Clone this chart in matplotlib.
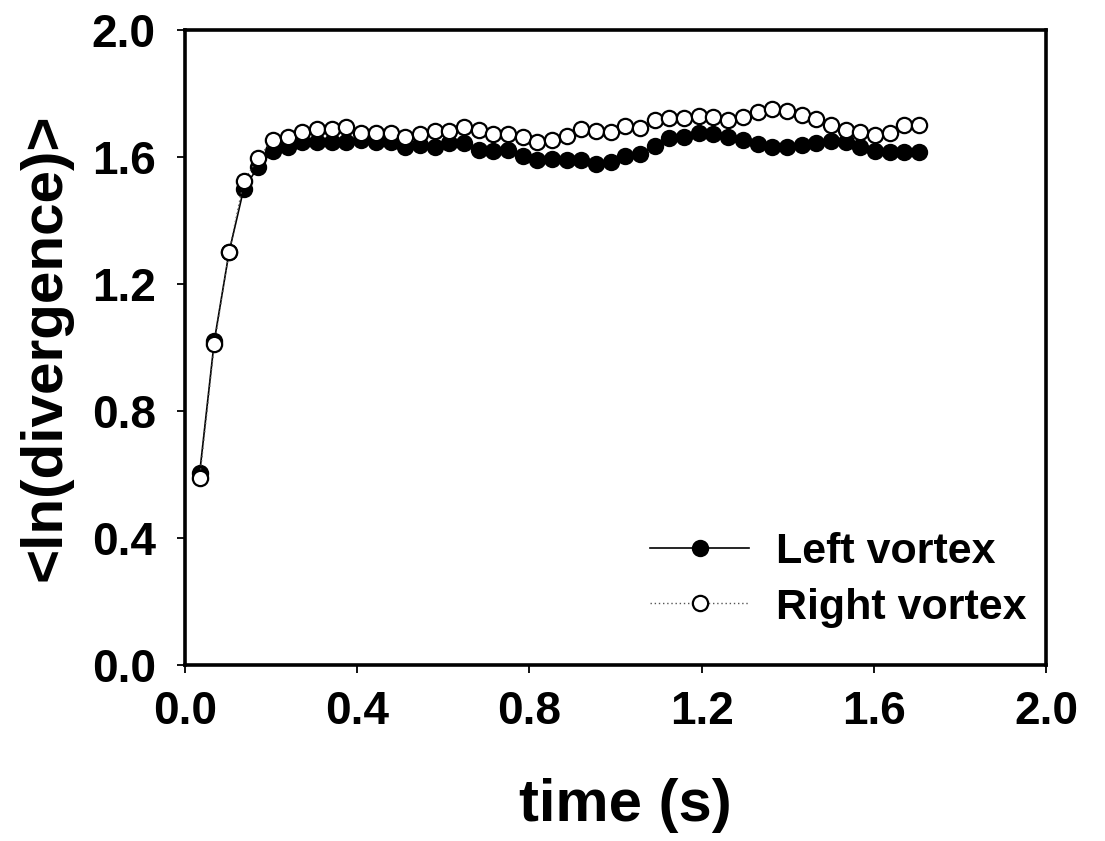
import numpy as np
import matplotlib
matplotlib.use("Agg")
import matplotlib.pyplot as plt

plt.rcParams["font.family"] = ["Liberation Sans", "DejaVu Sans"]
plt.rcParams["font.weight"] = "bold"

# Frame interval (s) and sample times
frame_dt = 0.0341
time_s = frame_dt * np.arange(1, 51)

left_vortex = [
    0.605, 1.022, 1.300, 1.500, 1.570, 1.619, 1.633, 1.648, 1.648, 1.648,
    1.648, 1.652, 1.648, 1.648, 1.633, 1.638, 1.633, 1.643, 1.645, 1.622,
    1.620, 1.622, 1.603, 1.590, 1.593, 1.590, 1.589, 1.578, 1.585, 1.603,
    1.611, 1.635, 1.659, 1.664, 1.675, 1.674, 1.664, 1.654, 1.641, 1.630,
    1.630, 1.638, 1.645, 1.651, 1.648, 1.630, 1.620, 1.617, 1.617, 1.617,
]

right_vortex = [
    0.589, 1.010, 1.300, 1.524, 1.598, 1.654, 1.664, 1.680, 1.688, 1.688,
    1.695, 1.677, 1.677, 1.677, 1.664, 1.672, 1.683, 1.683, 1.693, 1.685,
    1.672, 1.672, 1.664, 1.648, 1.654, 1.666, 1.687, 1.683, 1.680, 1.698,
    1.690, 1.717, 1.724, 1.724, 1.730, 1.727, 1.717, 1.727, 1.743, 1.750,
    1.746, 1.732, 1.719, 1.701, 1.685, 1.680, 1.669, 1.675, 1.700, 1.700,
]

x_ticks = [0.0, 0.4, 0.8, 1.2, 1.6, 2.0]
y_ticks = [0.0, 0.4, 0.8, 1.2, 1.6, 2.0]

fig = plt.figure(figsize=(11.05, 8.41), dpi=100)
ax = fig.add_axes([185 / 1105, 1 - 665 / 841, (1046 - 185) / 1105, (665 - 30) / 841])

ms = 11
ax.plot(time_s, left_vortex, color="black", lw=1.2, marker="o", ms=ms,
        mfc="black", mec="black", mew=1.5, label="Left vortex", zorder=3)
ax.plot(time_s, right_vortex, color="#555555", lw=1.0, ls=(0, (1, 2)), marker="o",
        ms=ms, mfc="white", mec="black", mew=1.6, label="Right vortex", zorder=4)

ax.set_xlim(0, 2.0)
ax.set_ylim(0, 2.0)
ax.set_xticks(x_ticks)
ax.set_yticks(y_ticks)
ax.set_xticklabels([f"{v:.1f}" for v in x_ticks])
ax.set_yticklabels([f"{v:.1f}" for v in y_ticks])

for s in ax.spines.values():
    s.set_linewidth(2.6)
ax.tick_params(axis="both", which="major", direction="out", length=6, width=1.3,
               labelsize=33)
ax.tick_params(axis="x", pad=12)
ax.tick_params(axis="y", pad=15)
for lbl in ax.get_xticklabels() + ax.get_yticklabels():
    lbl.set_fontweight("bold")

ax.set_xlabel("time (s)", fontsize=43, fontweight="bold")
ax.xaxis.set_label_coords(0.511, -0.178)
ax.set_ylabel("<ln(divergence)>", fontsize=42, fontweight="bold", labelpad=14)

leg = ax.legend(loc="upper left", bbox_to_anchor=(650 / 1105, 1 - 532 / 841),
                bbox_transform=fig.transFigure, frameon=False,
                handlelength=2.3, handletextpad=0.62, labelspacing=0.36,
                borderpad=0, borderaxespad=0, prop={"weight": "bold", "size": 31})

fig.savefig("out.png", dpi=100)
